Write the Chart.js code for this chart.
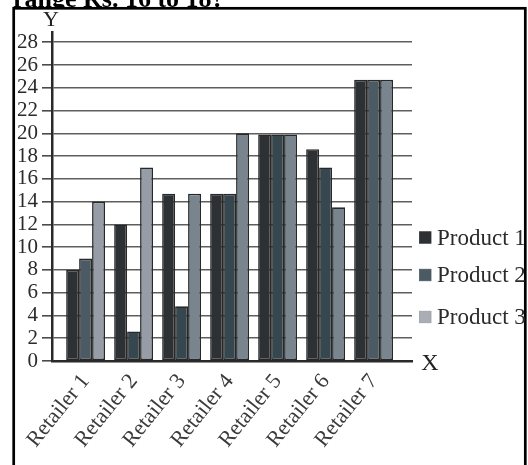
<!DOCTYPE html>
<html>
<head>
<meta charset="utf-8">
<script src="https://cdn.jsdelivr.net/npm/chart.js@4.4.1/dist/chart.umd.min.js"></script>
<style>
  html, body { margin: 0; padding: 0; background: #fff; }
  #wrap { width: 528px; height: 465px; position: relative; }
</style>
</head>
<body>
<div id="wrap"><canvas id="c" width="528" height="465"></canvas></div>
<script>
// Sales per retailer (Rs.)
const retailers = ['Retailer 1', 'Retailer 2', 'Retailer 3', 'Retailer 4', 'Retailer 5', 'Retailer 6', 'Retailer 7'];
const product1 = [8, 12, 14.7, 14.7, 19.9, 18.6, 24.7];
const product2 = [9, 2.6, 4.8, 14.7, 19.9, 17, 24.7];
const product3 = [14, 17, 14.7, 20, 19.9, 13.5, 24.7];
const seriesNames = ['Product 1', 'Product 2', 'Product 3'];
const yTicks = [0, 2, 4, 6, 8, 10, 12, 14, 16, 18, 20, 22, 24, 26, 28];

// Bar fills (per bar, as printed)
const fill1 = '#2d3133';
const fill2 = ['#4b5a63', '#37474f', '#37474f', '#37474f', '#37474f', '#37474f', '#4b5a63'];
const fill3 = ['#979da6', '#979da6', '#78858f', '#78858f', '#78858f', '#78858f', '#78858f'];
const legendFill = ['#2d3133', '#4b5a63', '#a9aeb4'];

const SERIF = "'Liberation Serif', 'Times New Roman', serif";
const INK = '#2b2b2b';

const toPoints = vals => vals.map((v, i) => ({ x: i, y: v }));

const decor = {
  id: 'decor',
  beforeDraw(chart) {
    const ctx = chart.ctx;
    ctx.save();
    ctx.fillStyle = '#fff';
    ctx.fillRect(0, 0, chart.width, chart.height);
    // question heading, cut by the frame
    ctx.beginPath();
    ctx.rect(0, 0, chart.width, 7);
    ctx.clip();
    ctx.fillStyle = '#000';
    ctx.font = 'bold 26px ' + SERIF;
    ctx.textBaseline = 'alphabetic';
    ctx.fillText('range Rs. 16 to 18?', 13, 6.5);
    ctx.restore();

    ctx.save();
    ctx.strokeStyle = '#000';
    ctx.lineWidth = 2.7;
    ctx.strokeRect(13.7, 8.3, 511.6, 520);
    ctx.restore();
  },
  afterDraw(chart) {
    const ctx = chart.ctx;
    const area = chart.chartArea;
    ctx.save();
    ctx.fillStyle = '#222';
    ctx.textAlign = 'center';
    ctx.textBaseline = 'middle';
    ctx.font = '22px ' + SERIF;
    ctx.fillText('Y', area.left - 1, 20);
    ctx.font = '24px ' + SERIF;
    ctx.fillText('X', 430, 364);

    // legend
    const rows = [237.5, 275, 317];
    ctx.font = '23px ' + SERIF;
    ctx.textAlign = 'left';
    chart.data.datasets.forEach((ds, i) => {
      const y = rows[i];
      ctx.fillStyle = legendFill[i];
      ctx.fillRect(419.5, y - 5.75, 11.5, 11.5);
      ctx.strokeStyle = i === 2 ? '#9a9fa6' : legendFill[i];
      ctx.lineWidth = 0.8;
      ctx.strokeRect(419.5, y - 5.75, 11.5, 11.5);
      ctx.fillStyle = INK;
      ctx.fillText(ds.label, 437, y + 1);
    });
    ctx.restore();
  }
};

const barStyle = {
  borderColor: '#262829',
  borderWidth: 1.6,
  borderSkipped: false,
  barPercentage: 1.0,
  categoryPercentage: 0.81
};

new Chart(document.getElementById('c'), {
  type: 'bar',
  data: {
    datasets: [
      Object.assign({ label: seriesNames[0], data: toPoints(product1), backgroundColor: fill1 }, barStyle),
      Object.assign({ label: seriesNames[1], data: toPoints(product2), backgroundColor: fill2 }, barStyle),
      Object.assign({ label: seriesNames[2], data: toPoints(product3), backgroundColor: fill3 }, barStyle)
    ]
  },
  options: {
    responsive: false,
    animation: false,
    devicePixelRatio: 1,
    layout: { padding: { left: 0, right: 116, top: 32, bottom: 0 } },
    plugins: {
      legend: { display: false },
      tooltip: { enabled: false },
      title: { display: false }
    },
    scales: {
      x: {
        type: 'linear',
        offset: false,
        min: -0.7,
        max: 6.8,
        grid: { display: false, drawTicks: false, offset: false },
        border: { display: true, color: '#2a2a2a', width: 2.5 },
        afterFit(scale) { scale.height = 104; },
        afterBuildTicks(scale) {
          scale.ticks = retailers.map((_, i) => ({ value: i }));
        },
        ticks: {
          autoSkip: false,
          maxRotation: 51,
          minRotation: 51,
          padding: 8,
          color: '#3a3a3a',
          font: { family: SERIF, size: 22 },
          callback: v => retailers[v]
        }
      },
      y: {
        min: 0,
        max: 28.9,
        grid: { color: '#5e5e5e', lineWidth: 1.6, tickLength: 10, tickColor: '#4a4a4a' },
        border: { display: true, color: '#2a2a2a', width: 2.5 },
        afterFit(scale) { scale.width = 52; },
        afterBuildTicks(scale) {
          scale.ticks = yTicks.map(v => ({ value: v }));
        },
        ticks: {
          autoSkip: false,
          padding: 4,
          color: INK,
          font: { family: SERIF, size: 21 }
        }
      }
    }
  },
  plugins: [decor]
});
</script>
</body>
</html>
